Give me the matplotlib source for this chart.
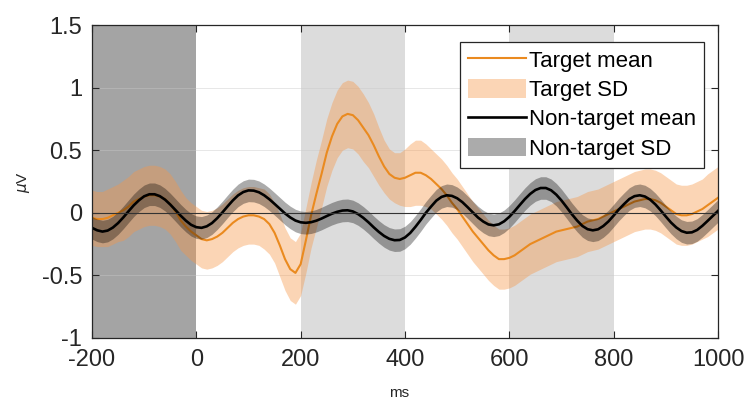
import numpy as np
import matplotlib
matplotlib.use("Agg")
import matplotlib.pyplot as plt
from matplotlib.patches import Patch
from matplotlib.lines import Line2D

plt.rcParams['font.family'] = ['Liberation Sans', 'DejaVu Sans']
plt.rcParams['axes.unicode_minus'] = False

# time axis (ms), 10 ms steps from -200 to 1000
time_ms = np.arange(-200, 1001, 10)

target_mean = [
    -0.04, -0.05, -0.05, -0.04, -0.02, 0.00, 0.02, 0.05, 0.09, 0.11,    # -200..-110
    0.13, 0.14, 0.14, 0.13, 0.11, 0.07, 0.01, -0.06, -0.11, -0.15,      # -100..-10
    -0.18, -0.21, -0.22, -0.21, -0.19, -0.16, -0.12, -0.08, -0.05, -0.03,  # 0..90
    -0.02, -0.02, -0.03, -0.05, -0.09, -0.16, -0.26, -0.37, -0.45, -0.48,  # 100..190
    -0.41, -0.22, -0.02, 0.15, 0.31, 0.48, 0.61, 0.71, 0.77, 0.79,      # 200..290
    0.78, 0.74, 0.68, 0.62, 0.54, 0.45, 0.37, 0.31, 0.28, 0.27,         # 300..390
    0.28, 0.30, 0.32, 0.32, 0.30, 0.27, 0.23, 0.19, 0.14, 0.08,         # 400..490
    0.03, -0.03, -0.09, -0.15, -0.20, -0.25, -0.30, -0.34, -0.37, -0.37,  # 500..590
    -0.36, -0.34, -0.31, -0.28, -0.25, -0.23, -0.21, -0.19, -0.17, -0.15,  # 600..690
    -0.14, -0.13, -0.12, -0.11, -0.09, -0.07, -0.06, -0.05, -0.03, -0.01,  # 700..790
    0.01, 0.03, 0.05, 0.07, 0.09, 0.10, 0.11, 0.11, 0.10, 0.08,         # 800..890
    0.05, 0.02, -0.01, -0.02, -0.02, -0.01, 0.01, 0.03, 0.06, 0.09,     # 900..990
    0.12,                                                              # 1000
]

target_sd = [
    0.22, 0.22, 0.22, 0.23, 0.23, 0.23, 0.24, 0.24, 0.24, 0.24,
    0.24, 0.24, 0.24, 0.24, 0.24, 0.24, 0.24, 0.24, 0.23, 0.23,
    0.23, 0.23, 0.23, 0.23, 0.23, 0.23, 0.23, 0.23, 0.23, 0.23,
    0.23, 0.23, 0.23, 0.24, 0.24, 0.24, 0.25, 0.25, 0.25, 0.25,
    0.25, 0.26, 0.26, 0.27, 0.27, 0.27, 0.27, 0.27, 0.27, 0.27,
    0.27, 0.27, 0.27, 0.26, 0.25, 0.23, 0.21, 0.20, 0.20, 0.21,
    0.23, 0.25, 0.26, 0.26, 0.25, 0.24, 0.24, 0.24, 0.24, 0.24,
    0.24, 0.24, 0.24, 0.24, 0.24, 0.24, 0.24, 0.24, 0.24, 0.24,
    0.24, 0.24, 0.24, 0.24, 0.24, 0.24, 0.24, 0.24, 0.24, 0.24,
    0.24, 0.24, 0.24, 0.24, 0.24, 0.24, 0.24, 0.24, 0.24, 0.24,
    0.24, 0.24, 0.24, 0.24, 0.24, 0.24, 0.24, 0.24, 0.24, 0.24,
    0.24, 0.24, 0.24, 0.24, 0.24, 0.24, 0.24, 0.24, 0.25, 0.25,
    0.25,
]

nontarget_mean = [
    -0.120, -0.140, -0.150, -0.142, -0.118, -0.082, -0.037, 0.012, 0.060, 0.100,   # -200..-110
    0.132, 0.148, 0.148, 0.133, 0.105, 0.066, 0.022, -0.023, -0.063, -0.096,      # -100..-10
    -0.115, -0.120, -0.108, -0.082, -0.043, 0.003, 0.052, 0.099, 0.139, 0.166,    # 0..90
    0.179, 0.177, 0.164, 0.140, 0.108, 0.071, 0.033, -0.005, -0.037, -0.062,      # 100..190
    -0.076, -0.080, -0.075, -0.063, -0.046, -0.026, -0.007, 0.008, 0.018, 0.020,  # 200..290
    0.011, -0.010, -0.040, -0.076, -0.116, -0.153, -0.185, -0.208, -0.219, -0.217,  # 300..390
    -0.197, -0.161, -0.112, -0.058, 0.000, 0.050, 0.097, 0.127, 0.140, 0.135,     # 400..490
    0.116, 0.085, 0.045, 0.003, -0.038, -0.070, -0.093, -0.100, -0.092, -0.068,   # 500..590
    -0.032, 0.013, 0.062, 0.110, 0.151, 0.182, 0.198, 0.198, 0.180, 0.145,       # 600..690
    0.098, 0.044, -0.012, -0.062, -0.105, -0.131, -0.140, -0.132, -0.106, -0.069,  # 700..790
    -0.022, 0.027, 0.070, 0.110, 0.133, 0.140, 0.130, 0.105, 0.067, 0.020,       # 800..890
    -0.030, -0.078, -0.117, -0.146, -0.159, -0.156, -0.137, -0.104, -0.065, -0.025,  # 900..990
    0.015,                                                                      # 1000
]

nontarget_sd = [0.09] * 121

shade_dark = (-200, 0)
shade_light = [(200, 400), (600, 800)]

xticks = [-200, 0, 200, 400, 600, 800, 1000]
yticks = [-1, -0.5, 0, 0.5, 1, 1.5]
ytick_labels = ['-1', '-0.5', '0', '0.5', '1', '1.5']

tm = np.array(target_mean)
ts = np.array(target_sd)
nm = np.array(nontarget_mean)
ns = np.array(nontarget_sd)

fig = plt.figure(figsize=(7.48, 4.01), dpi=100)
ax = fig.add_axes([92/748, 63/401, 626/748, 313/401])

ax.axvspan(*shade_dark, color='#a4a4a4', lw=0, zorder=0)
for a, b in shade_light:
    ax.axvspan(a, b, color='#dcdcdc', lw=0, zorder=0)

for yv in [-0.5, 0.5, 1.0]:
    ax.axhline(yv, color='#c8c8c8', lw=0.6, alpha=0.5, zorder=0.5)
ax.axhline(0, color='#333333', lw=0.8, zorder=5)

ax.fill_between(time_ms, tm - ts, tm + ts, color='#f79646', alpha=0.40, lw=0, zorder=1)
ax.plot(time_ms, tm, color='#ea8a1f', lw=1.5, zorder=2)
ax.fill_between(time_ms, nm - ns, nm + ns, color='#000000', alpha=0.33, lw=0, zorder=3)
ax.plot(time_ms, nm, color='#000000', lw=1.9, zorder=4)

ax.set_xlim(-200, 1000)
ax.set_ylim(-1, 1.5)
ax.set_xticks(xticks)
ax.set_yticks(yticks)
ax.set_yticklabels(ytick_labels)

ax.tick_params(direction='in', length=5, width=0.8, top=True, right=True,
               labelsize=17, colors='#262626')
ax.tick_params(axis='x', pad=8)
ax.tick_params(axis='y', pad=7)
for s in ax.spines.values():
    s.set_color('#262626')
    s.set_linewidth(0.9)
    s.set_zorder(6)

ax.set_xlabel('ms', fontsize=11, color='#262626')
ax.xaxis.set_label_coords(0.49, -0.152)
ax.set_ylabel(r'$\mu$V', fontsize=11, color='#262626')
ax.yaxis.set_label_coords(-0.096, 0.50)

handles = [
    Line2D([0], [0], color='#ea8a1f', lw=1.5),
    Patch(facecolor='#f79646', alpha=0.40, edgecolor='none'),
    Line2D([0], [0], color='#000000', lw=1.9),
    Patch(facecolor='#000000', alpha=0.33, edgecolor='none'),
]
labels = ['Target mean', 'Target SD', 'Non-target mean', 'Non-target SD']
leg = ax.legend(handles, labels, loc='upper right', bbox_to_anchor=(0.978, 0.946),
                fontsize=16, frameon=True, fancybox=False, framealpha=1,
                edgecolor='#262626', handlelength=2.6, handleheight=0.9,
                handletextpad=0.15, labelspacing=0.34, borderpad=0.35,
                borderaxespad=0.0)
leg.get_frame().set_linewidth(0.9)
leg.set_zorder(10)

fig.savefig('out.png', dpi=100)
